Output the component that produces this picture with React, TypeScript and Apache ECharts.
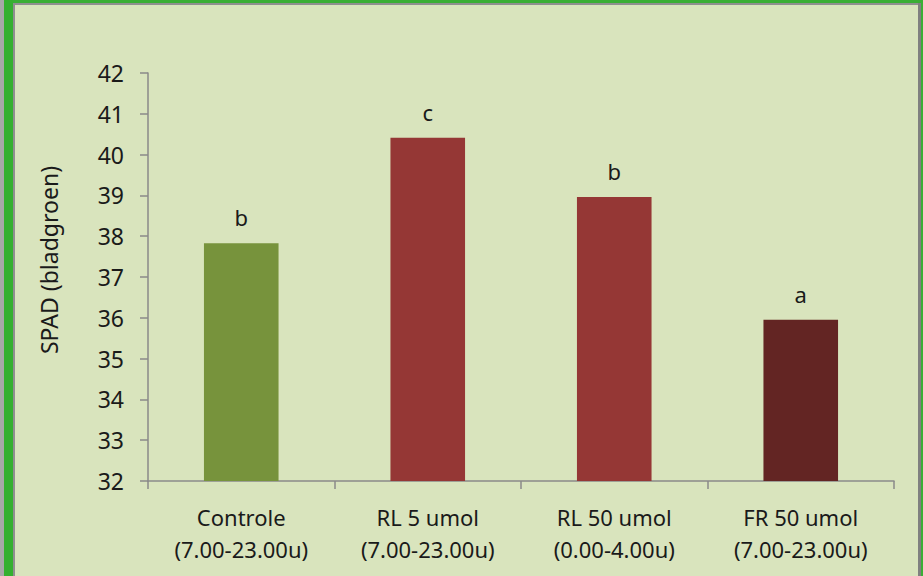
import React, { useEffect, useRef } from "react";
import * as echarts from "echarts";

const categories = [
  "Controle\n(7.00-23.00u)",
  "RL 5 umol\n(7.00-23.00u)",
  "RL 50 umol\n(0.00-4.00u)",
  "FR 50 umol\n(7.00-23.00u)",
];
const spadValues = [37.83, 40.41, 38.96, 35.95];
const significance = ["b", "c", "b", "a"];
const barColors = ["#77933c", "#953735", "#953735", "#632523"];
const yTicks = { min: 32, max: 42, interval: 1 };

const FONT = "'Noto Sans', 'Open Sans', sans-serif";
const W = 923;
const H = 576;

export default function App() {
  const ref = useRef<HTMLDivElement>(null);

  useEffect(() => {
    if (!ref.current) return;
    const chart = echarts.init(ref.current, null, { renderer: "svg" });
    chart.setOption({
      animation: false,
      backgroundColor: "#d9e4bd",
      graphic: [
        // frame: green edges with grey inner lines
        { type: "rect", shape: { x: 0, y: 0, width: W, height: 3 }, style: { fill: "#3aae35" }, z: 100 },
        { type: "rect", shape: { x: 0, y: 0, width: 4, height: H }, style: { fill: "#a8a8a8" }, z: 100 },
        { type: "rect", shape: { x: 4, y: 0, width: 9, height: H }, style: { fill: "#35b030" }, z: 100 },
        { type: "rect", shape: { x: 13, y: 3, width: 2, height: H }, style: { fill: "#8f8f8f" }, z: 100 },
        { type: "rect", shape: { x: 13, y: 3, width: W, height: 2 }, style: { fill: "#8f8f8f" }, z: 100 },
        { type: "rect", shape: { x: 918, y: 3, width: 3, height: H }, style: { fill: "#808080" }, z: 100 },
        { type: "rect", shape: { x: 921, y: 0, width: 2, height: H }, style: { fill: "#3aae35" }, z: 100 },
      ],
      grid: { left: 148, right: 29, top: 73, bottom: 95, containLabel: false },
      xAxis: {
        type: "category",
        data: categories,
        axisLine: { show: true, lineStyle: { color: "#8a8a8a", width: 1.5 } },
        axisTick: { show: true, alignWithLabel: false, length: 8, lineStyle: { color: "#8a8a8a", width: 1.5 } },
        axisLabel: {
          color: "#1a1a1a",
          fontFamily: FONT,
          fontSize: 22,
          lineHeight: 32,
          margin: 20,
          interval: 0,
        },
      },
      yAxis: {
        type: "value",
        min: yTicks.min,
        max: yTicks.max,
        interval: yTicks.interval,
        name: "SPAD (bladgroen)",
        nameLocation: "middle",
        nameGap: 88,
        nameTextStyle: {
          color: "#1a1a1a",
          fontFamily: FONT,
          fontSize: 23,
          // nudges the rotated title a little above the axis centre
          padding: [0, 0, 0, 34],
        },
        axisLine: { show: true, lineStyle: { color: "#8a8a8a", width: 1.5 } },
        axisTick: { show: true, inside: false, length: 8, lineStyle: { color: "#8a8a8a", width: 1.5 } },
        splitLine: { show: false },
        axisLabel: { color: "#1a1a1a", fontFamily: FONT, fontSize: 23, margin: 24 },
      },
      series: [
        {
          type: "bar",
          barWidth: "40%",
          data: spadValues.map((v, i) => ({
            value: v,
            itemStyle: { color: barColors[i] },
            label: { formatter: significance[i] },
          })),
          label: {
            show: true,
            position: "top",
            distance: 15,
            color: "#1a1a1a",
            fontFamily: FONT,
            fontSize: 22,
          },
        },
      ],
    });
    return () => chart.dispose();
  }, []);

  return (
    <div
      ref={ref}
      style={{ position: "fixed", left: 0, top: 0, width: W, height: H }}
    />
  );
}
